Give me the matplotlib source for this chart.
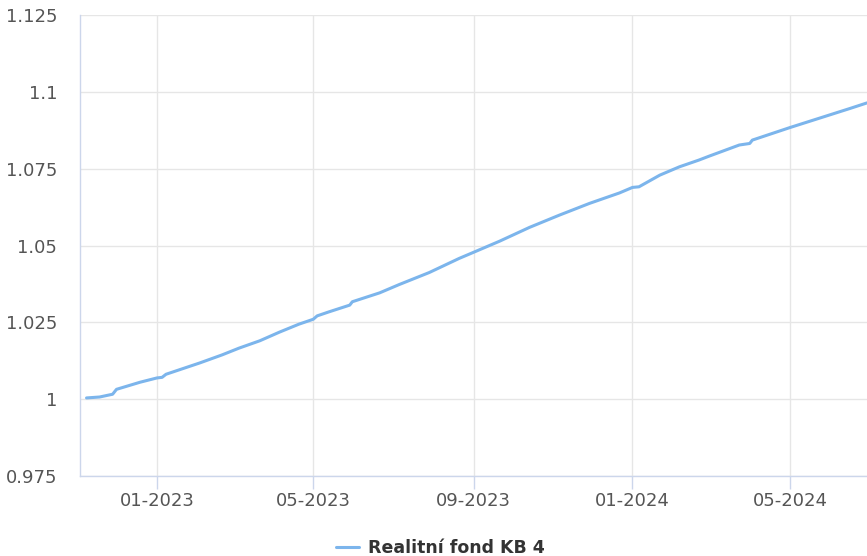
import matplotlib
matplotlib.use("Agg")
import matplotlib.pyplot as plt
import matplotlib.dates as mdates
import numpy as np
from matplotlib.ticker import FuncFormatter, FixedLocator

# NAV of the fund, read at irregular dates
dates = [
    "2022-11-08", "2022-11-18", "2022-11-28", "2022-12-01", "2022-12-19",
    "2023-01-01", "2023-01-05", "2023-01-08", "2023-02-03", "2023-02-20",
    "2023-03-05", "2023-03-21", "2023-04-05", "2023-04-20", "2023-05-01",
    "2023-05-04", "2023-05-13", "2023-05-29", "2023-05-31", "2023-06-21",
    "2023-07-06", "2023-07-29", "2023-08-21", "2023-08-31", "2023-09-21",
    "2023-10-14", "2023-11-06", "2023-11-29", "2023-12-22", "2024-01-01",
    "2024-01-06", "2024-01-22", "2024-02-06", "2024-02-21", "2024-02-29",
    "2024-03-23", "2024-03-31", "2024-04-02", "2024-05-01", "2024-05-24",
    "2024-06-16", "2024-06-29",
]
values = [
    1.0004, 1.0007, 1.0016, 1.0032, 1.0055,
    1.0069, 1.0071, 1.0081, 1.0118, 1.0144,
    1.0166, 1.0190, 1.0218, 1.0244, 1.0260,
    1.0271, 1.0284, 1.0306, 1.0317, 1.0346,
    1.0373, 1.0412, 1.0458, 1.0476, 1.0514,
    1.0559, 1.0599, 1.0637, 1.0671, 1.0689,
    1.0691, 1.0729, 1.0756, 1.0778, 1.0791,
    1.0827, 1.0832, 1.0843, 1.0884, 1.0915,
    1.0946, 1.0964,
]
y_ticks = [0.975, 1.0, 1.025, 1.05, 1.075, 1.1, 1.125]
series_name = "Realitní fond KB 4"

x = np.array(dates, dtype="datetime64[D]")

fig = plt.figure(figsize=(8.67, 5.56), dpi=100)
ax = fig.add_axes([0.0923, 0.1439, 0.9077, 0.8291])

ax.plot(x, values, color="#7cb5ec", linewidth=2.2, label=series_name,
        solid_capstyle="round", zorder=3)

ax.set_xlim(np.datetime64("2022-11-03"), np.datetime64("2024-06-29"))
ax.set_ylim(0.975, 1.125)
ax.yaxis.set_major_locator(FixedLocator(y_ticks))
ax.yaxis.set_major_formatter(FuncFormatter(lambda v, p: f"{v:g}"))
ax.xaxis.set_major_locator(mdates.MonthLocator(bymonth=[1, 5, 9]))
ax.xaxis.set_major_formatter(mdates.DateFormatter("%m-%Y"))

ax.grid(True, color="#e6e6e6", linewidth=1)
ax.set_axisbelow(True)
for s in ["top", "right"]:
    ax.spines[s].set_visible(False)
for s in ["left", "bottom"]:
    ax.spines[s].set_color("#ccd6eb")
    ax.spines[s].set_linewidth(1)

ax.tick_params(axis="y", length=0, pad=16.5, labelsize=13, labelcolor="#555555")
ax.tick_params(axis="x", length=9.5, width=1, color="#ccd6eb", pad=2,
               labelsize=13, labelcolor="#555555")

fig.legend(loc="lower center", bbox_to_anchor=(0.508, -0.03), frameon=False,
           handlelength=1.3, handletextpad=0.5,
           prop={"weight": "bold", "size": 12.5}, labelcolor="#333333")

fig.savefig("out.png", dpi=100)
